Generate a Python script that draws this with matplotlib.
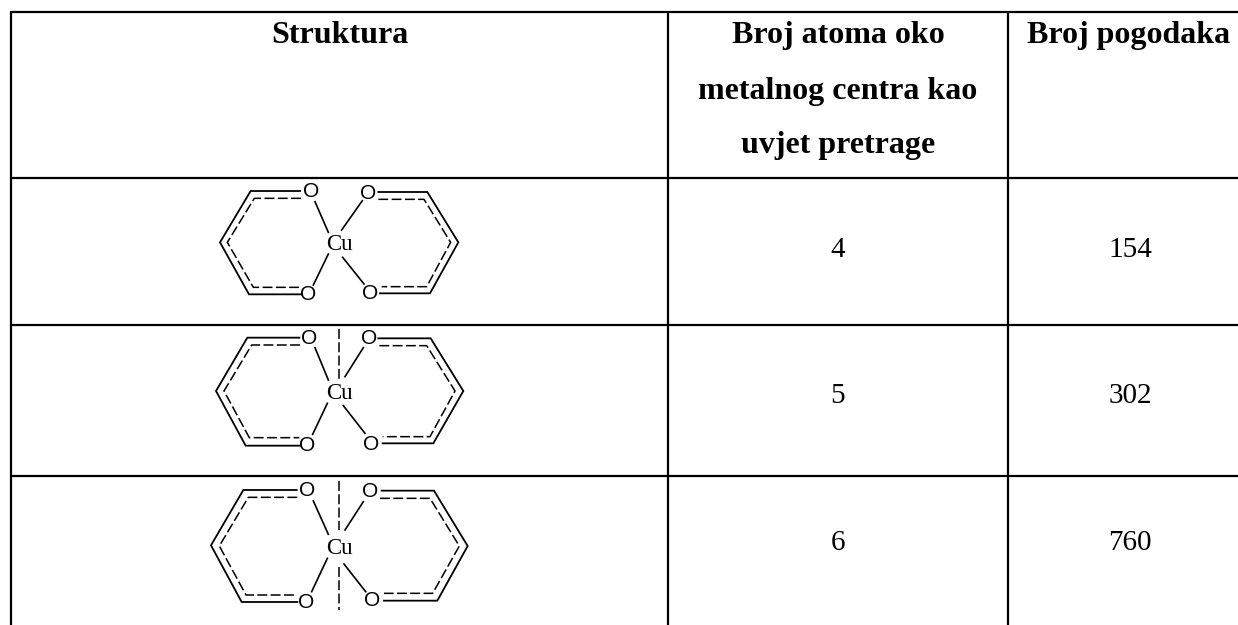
#
# Table of Cu coordination search results with the three structure sketches
#
import matplotlib
matplotlib.use('Agg')
import matplotlib.pyplot as plt

plt.rcParams['font.family'] = ['Liberation Serif', 'DejaVu Serif']

# Table content
header_1 = 'Struktura'
header_2 = ['Broj atoma oko', 'metalnog centra kao', 'uvjet pretrage']
header_3 = 'Broj pogodaka'
atom_counts = ['4', '5', '6']
hits = ['154', '302', '760']
row_text_y = [257, 403, 550]
header_y = [43, 98.5, 153.5]

# Grid lines, in pixels
col_x = [11, 668, 1008]
row_y = [11.5, 178, 324.5, 476]

origins = [(200, 180), (200, 325), (200, 470)]
solid_rings = [
    [[(300, 33), (152, 33), (60, 187), (147, 343), (303, 343)],
     [(535, 36), (682, 36), (775, 187), (690, 340), (540, 340)]],
    [[(298, 38), (142, 38), (48, 198), (137, 362), (300, 362)],
     [(535, 40), (692, 40), (790, 198), (700, 355), (548, 355)]],
    [[(290, 60), (130, 60), (33, 226), (125, 396), (292, 396)],
     [(545, 62), (702, 62), (803, 228), (712, 392), (552, 392)]],
]
dashed_rings = [
    [[(303, 55), (163, 55), (82, 187), (160, 322), (303, 322)],
     [(535, 58), (672, 58), (752, 187), (680, 320), (545, 320)]],
    [[(300, 60), (155, 60), (72, 198), (148, 338), (298, 338)],
     [(538, 62), (680, 62), (765, 198), (690, 335), (548, 335)]],
    [[(292, 82), (145, 82), (58, 228), (138, 375), (290, 375)],
     [(540, 85), (690, 85), (778, 228), (698, 370), (552, 370)]],
]
bonds = [
    [[(345, 65), (385, 157)], [(487, 62), (425, 150)],
     [(385, 222), (340, 315)], [(428, 232), (492, 312)]],
    [[(345, 68), (385, 165)], [(490, 68), (435, 155)],
     [(382, 235), (338, 328)], [(430, 242), (495, 325)]],
    [[(340, 93), (385, 193)], [(490, 95), (435, 180)],
     [(382, 265), (335, 365)], [(432, 282), (497, 365)]],
]
axial = [
    [],
    [[(416, 12), (416, 165)]],
    [[(417, 33), (417, 180)], [(417, 290), (417, 420)]],
]
oxygens = [
    [(332, 35), (503, 40), (325, 343), (510, 340)],
    [(328, 40), (506, 42), (322, 362), (513, 357)],
    [(322, 62), (510, 65), (317, 397), (517, 392)],
]
copper = [(417, 190), (418, 203), (417, 232)]


def crop_to_px(points, origin):
    xs = [origin[0] + p[0]/3 for p in points]
    ys = [origin[1] + p[1]/3 for p in points]
    return xs, ys


fig = plt.figure(figsize=(12.38, 6.25), dpi=100)
ax = fig.add_axes([0, 0, 1, 1])
ax.set_xlim(0, 1238)
ax.set_ylim(625, 0)
ax.axis('off')

# Grid
for x in col_x:
    ax.plot([x, x], [row_y[0]-1, 625], color='black', lw=1.6, solid_capstyle='butt')
for y in row_y:
    ax.plot([col_x[0]-1, 1238], [y, y], color='black', lw=1.6, solid_capstyle='butt')

# Header
head = dict(fontsize=23, fontweight='bold', ha='center', va='baseline', color='black')
ax.text(340, header_y[0], header_1, **head)
for y, line in zip(header_y, header_2):
    ax.text(838, y, line, **head)
ax.text(1128.5, header_y[0], header_3, **head)

# Values
for y, n, h in zip(row_text_y, atom_counts, hits):
    ax.text(838, y, n, fontsize=21, ha='center', va='baseline', color='black')
    ax.text(1130, y, h, fontsize=21, ha='center', va='baseline', color='black')

# Sketches
for i, origin in enumerate(origins):
    for ring in solid_rings[i]:
        xs, ys = crop_to_px(ring, origin)
        ax.plot(xs, ys, color='black', lw=1.3, solid_joinstyle='miter')
    for ring in dashed_rings[i]:
        xs, ys = crop_to_px(ring, origin)
        ax.plot(xs, ys, color='black', lw=1.1, linestyle=(0, (6.5, 2.2)))
    for bond in bonds[i]:
        xs, ys = crop_to_px(bond, origin)
        ax.plot(xs, ys, color='black', lw=1.2)
    for line in axial[i]:
        xs, ys = crop_to_px(line, origin)
        ax.plot(xs, ys, color='black', lw=1.1, linestyle=(0, (6.5, 2.2)))
    for p in oxygens[i]:
        xs, ys = crop_to_px([p], origin)
        ax.text(xs[0], ys[0], 'O', fontsize=15, family=['Liberation Sans'],
                ha='center', va='center', color='black')
    xs, ys = crop_to_px([copper[i]], origin)
    ax.text(xs[0], ys[0] + 1, 'Cu', fontsize=16.5, ha='center', va='center', color='black')

plt.savefig('out.png', dpi=100)
plt.close(fig)
